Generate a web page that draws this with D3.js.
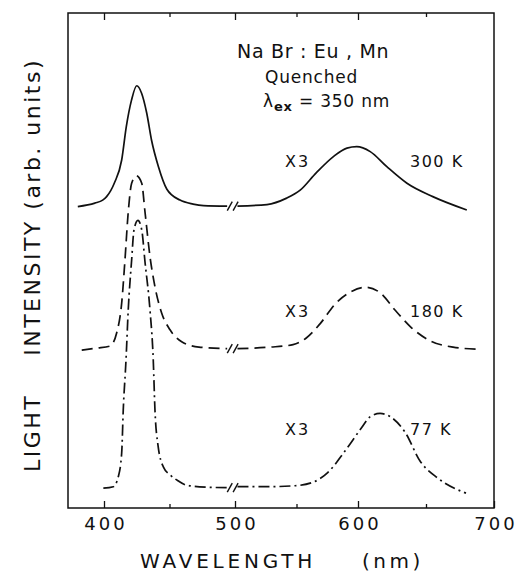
<!DOCTYPE html>
<html>
<head>
<meta charset="utf-8">
<script src="https://cdn.jsdelivr.net/npm/d3@7"></script>
<style>
  body { margin: 0; background: #fff; }
  text { font-family: "DejaVu Sans", sans-serif; fill: #111; }
</style>
</head>
<body>
<div id="canvas"></div>
<script>
// wavelength (nm) and intensity (arb. units, as plotted) for each temperature
const wl300 = [380, 393, 399, 402, 408, 413.5, 417, 421, 425, 428.7, 432.6, 436.3, 441.5, 448, 458, 468, 476, 494,
               502, 526, 542, 553, 566, 580, 591, 599, 609, 621, 636, 655, 680];
const int300 = [60.9, 61.6, 62.2, 62.9, 65.7, 70.3, 77.0, 82.4, 85.3, 83.8, 79.8, 74.3, 69.0, 64.4, 62.2, 61.4, 61.1, 61.0,
                61.0, 61.3, 62.6, 64.2, 67.7, 71.0, 72.7, 73.0, 72.0, 69.0, 65.6, 62.9, 60.2];

const wl180 = [383, 394.4, 404.6, 409.7, 413.5, 416, 418.5, 421.1, 424.7, 428.8, 431.3, 435.1, 438.9, 444, 450.4, 459.3, 472.5, 494,
               502, 528.5, 547.2, 557.7, 569.1, 582.1, 595.1, 605.9, 616.2, 627.2, 639, 653.7, 669.9, 686.8];
const int180 = [31.9, 32.3, 32.7, 35.4, 41.4, 50.1, 59.8, 65.6, 67.1, 65.6, 59.8, 50.8, 44.7, 39.4, 36.0, 33.6, 32.5, 32.2,
                32.2, 32.5, 33.0, 34.3, 37.2, 41.4, 43.8, 44.6, 43.5, 40.0, 36.5, 33.7, 32.5, 32.1];

const wl77 = [399.5, 407.1, 410.9, 413.5, 414.7, 416.8, 418.5, 421.1, 422.9, 425.9, 428.8, 431.3, 435.1, 437.6, 438.9, 441.2, 445.3, 450.4, 456.5, 463.1, 478.4, 494,
              502, 525.9, 548.8, 563.4, 575.6, 589.4, 602.6, 608.8, 616.2, 624.6, 634.6, 645.6, 658.8, 679.4];
const int77 = [4.0, 4.3, 6.3, 11.1, 19.8, 29.9, 40.0, 50.1, 56.2, 58.1, 56.2, 49.7, 40.0, 29.9, 19.8, 12.7, 8.3, 6.7, 5.5, 4.6, 4.2, 4.1,
               4.3, 4.3, 4.5, 5.2, 7.2, 11.5, 16.2, 18.4, 19.1, 18.3, 15.3, 9.5, 6.0, 3.0];

const tempLabels = ['300 K', '180 K', '77 K'];
const scaleLabels = ['X3', 'X3', 'X3'];
const majorTicks = [400, 500, 600, 700];
const minorTicks = [450, 550, 650];
const breakAt = 498;

const MARGIN = { LEFT: 68, RIGHT: 30, TOP: 13, BOTTOM: 65 };
const WIDTH = 524 - MARGIN.LEFT - MARGIN.RIGHT;
const HEIGHT = 573 - MARGIN.TOP - MARGIN.BOTTOM;

const svg = d3.select('#canvas').append('svg')
  .attr('width', 524)
  .attr('height', 573);

const g = svg.append('g')
  .attr('transform', `translate(${MARGIN.LEFT}, ${MARGIN.TOP})`);

// hand-drawn axis: spacing of the decades is not quite even
const x = d3.scaleLinear()
  .domain([400, 500, 600, 700])
  .range([36, 167, 290, 426]);

const y = d3.scaleLinear()
  .domain([0, 100])
  .range([HEIGHT, 0]);

// frame
g.append('rect')
  .attr('width', WIDTH)
  .attr('height', HEIGHT)
  .attr('fill', 'none')
  .attr('stroke', '#111')
  .attr('stroke-width', 1.5);

const tickFont = g => g.selectAll('text')
  .style('font-size', '18px')
  .style('letter-spacing', '3px')
  .attr('dx', '1.5px')
  .attr('fill', '#111');

g.append('g')
  .attr('transform', `translate(0, ${HEIGHT})`)
  .call(d3.axisBottom(x).tickValues(majorTicks).tickSize(-7).tickPadding(9).tickFormat(d3.format('d')))
  .call(a => a.select('.domain').remove())
  .call(tickFont);

g.append('g')
  .attr('transform', `translate(0, ${HEIGHT})`)
  .call(d3.axisBottom(x).tickValues(minorTicks).tickSize(-4).tickFormat(''))
  .call(a => a.select('.domain').remove());

g.append('g')
  .call(d3.axisTop(x).tickValues(majorTicks.filter(d => d < 700)).tickSize(-7).tickFormat(''))
  .call(a => a.select('.domain').remove());

g.append('g')
  .call(d3.axisTop(x).tickValues(minorTicks).tickSize(-4).tickFormat(''))
  .call(a => a.select('.domain').remove());

g.selectAll('.tick line').attr('stroke', '#111').attr('stroke-width', 1.3);

// spectra
const series = [
  { wl: wl300, val: int300, dash: null },
  { wl: wl180, val: int180, dash: '11,6' },
  { wl: wl77, val: int77, dash: '11,4,2,4' }
];

const line = d3.line()
  .x(d => x(d[0]))
  .y(d => y(d[1]))
  .curve(d3.curveMonotoneX);

series.forEach(s => {
  const pts = s.wl.map((w, i) => [w, s.val[i]]);
  const parts = [pts.filter(p => p[0] < breakAt), pts.filter(p => p[0] > breakAt)];
  parts.forEach(p => {
    g.append('path')
      .datum(p)
      .attr('d', line)
      .attr('fill', 'none')
      .attr('stroke', '#111')
      .attr('stroke-width', 1.7)
      .attr('stroke-dasharray', s.dash);
  });
  // axis-break slashes
  const yb = y(parts[0][parts[0].length - 1][1]);
  [496, 500.5].forEach(w => {
    g.append('line')
      .attr('x1', x(w) - 2.5).attr('y1', yb + 4.5)
      .attr('x2', x(w) + 2.5).attr('y2', yb - 4.5)
      .attr('stroke', '#111')
      .attr('stroke-width', 1.4);
  });
});

// annotations
const labelY = [167, 317, 435];
labelY.forEach((ly, i) => {
  svg.append('text')
    .attr('x', 285).attr('y', ly)
    .style('font-size', '16px')
    .style('letter-spacing', '2px')
    .text(scaleLabels[i]);
  svg.append('text')
    .attr('x', 410).attr('y', ly)
    .style('font-size', '16px')
    .style('letter-spacing', '1.5px')
    .text(tempLabels[i]);
});

svg.append('text')
  .attr('x', 237).attr('y', 58)
  .style('font-size', '19px')
  .style('letter-spacing', '0.7px')
  .style('white-space', 'pre')
  .text('Na Br : Eu , Mn');

svg.append('text')
  .attr('x', 265).attr('y', 83)
  .style('font-size', '17px')
  .style('letter-spacing', '0.8px')
  .text('Quenched');

const lam = svg.append('text')
  .attr('x', 263).attr('y', 107)
  .style('font-size', '17px')
  .style('letter-spacing', '0.8px')
  .style('white-space', 'pre');
lam.append('tspan').text('λ');
lam.append('tspan').attr('dy', 4).style('font-size', '13px').style('font-weight', 'bold').text('ex');
lam.append('tspan').attr('dy', -4).text(' = 350 nm');

// axis titles
svg.append('text')
  .attr('x', 140).attr('y', 568)
  .style('font-size', '20px')
  .style('letter-spacing', '3.8px')
  .text('WAVELENGTH');

svg.append('text')
  .attr('x', 362).attr('y', 568)
  .style('font-size', '20px')
  .style('letter-spacing', '3.5px')
  .text('(nm)');

svg.append('text')
  .attr('transform', 'translate(40, 265) rotate(-90)')
  .attr('text-anchor', 'middle')
  .style('font-size', '22px')
  .style('letter-spacing', '2.5px')
  .style('white-space', 'pre')
  .text('LIGHT    INTENSITY (arb. units)');
</script>
</body>
</html>
